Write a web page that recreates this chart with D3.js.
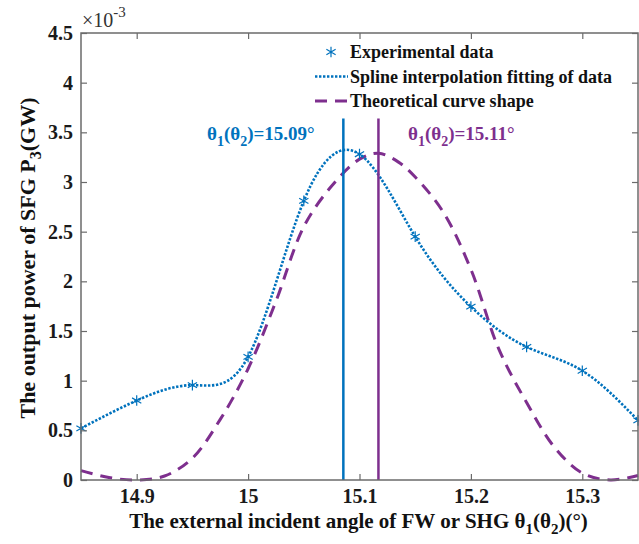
<!DOCTYPE html>
<html>
<head>
<meta charset="utf-8">
<script src="https://cdn.jsdelivr.net/npm/d3@7"></script>
<style>
  body { margin: 0; background: #fff; }
  svg { display: block; }
  text { font-family: "Liberation Serif", "DejaVu Serif", serif; }
</style>
</head>
<body>
<div id="chart"></div>
<script>
// experimental data (x in degrees, y in 1e-3 GW)
const expAngle = [14.85, 14.9, 14.95, 15.0, 15.05, 15.1, 15.15, 15.2, 15.25, 15.3, 15.35]
const expPower = [0.52, 0.80, 0.955, 1.24, 2.81, 3.28, 2.45, 1.745, 1.34, 1.10, 0.60]

// theoretical curve shape
const theoAngle = [14.85, 14.875, 14.9, 14.925, 14.95, 14.975, 15.0, 15.025, 15.05, 15.075, 15.1, 15.117,
  15.135, 15.15, 15.175, 15.2, 15.225, 15.25, 15.275, 15.3, 15.325, 15.35]
const theoPower = [0.094, 0.025, 0.0, 0.04, 0.22, 0.61, 1.12, 1.80, 2.55, 2.96, 3.23, 3.29,
  3.20, 3.05, 2.70, 2.12, 1.32, 0.78, 0.33, 0.07, 0.0, 0.045]

const peakFit = 15.0855, peakTheo = 15.117, markTop = 3.64
const xTicks = [14.9, 15.0, 15.1, 15.2, 15.3]
const yTicks = [0, 0.5, 1, 1.5, 2, 2.5, 3, 3.5, 4, 4.5]

const legendItems = ["Experimental data", "Spline interpolation fitting of data", "Theoretical curve shape"]

const blue = "#0072bd", purple = "#7e2f8e"
const W = 639, H = 544
const margin = { top: 33, right: 1, bottom: 64, left: 81 }

const svg = d3.select("#chart").append("svg")
  .attr("width", W).attr("height", H)

const x = d3.scaleLinear().domain([14.85, 15.35]).range([margin.left, W - margin.right])
const y = d3.scaleLinear().domain([0, 4.5]).range([H - margin.bottom, margin.top])

const plot = svg.append("g")

// theoretical dashed curve
plot.append("path")
  .datum(d3.zip(theoAngle, theoPower))
  .attr("d", d3.line().x(d => x(d[0])).y(d => y(d[1])).curve(d3.curveCatmullRom))
  .attr("fill", "none").attr("stroke", purple).attr("stroke-width", 3)
  .attr("stroke-dasharray", "12,8")

// spline through the data
plot.append("path")
  .datum(d3.zip(expAngle, expPower))
  .attr("d", d3.line().x(d => x(d[0])).y(d => y(d[1])).curve(d3.curveNatural))
  .attr("fill", "none").attr("stroke", blue).attr("stroke-width", 2.6)
  .attr("stroke-dasharray", "2.4,1.6")

// vertical peak markers
plot.append("line")
  .attr("x1", x(peakFit)).attr("x2", x(peakFit)).attr("y1", y(0)).attr("y2", y(markTop))
  .attr("stroke", blue).attr("stroke-width", 2.5)
plot.append("line")
  .attr("x1", x(peakTheo)).attr("x2", x(peakTheo)).attr("y1", y(0)).attr("y2", y(markTop))
  .attr("stroke", purple).attr("stroke-width", 2.5)

// data markers
const star = d3.symbol(d3.symbolAsterisk, 80)
plot.selectAll(".pt")
  .data(d3.zip(expAngle, expPower))
  .enter().append("path")
  .attr("class", "pt")
  .attr("d", star)
  .attr("transform", d => "translate(" + x(d[0]) + "," + y(d[1]) + ")")
  .attr("fill", "none").attr("stroke", blue).attr("stroke-width", 1.2)

// axes box
const axisColor = "#6b6b6b"
svg.append("rect")
  .attr("x", x(14.85)).attr("y", y(4.5))
  .attr("width", x(15.35) - x(14.85)).attr("height", y(0) - y(4.5))
  .attr("fill", "none").attr("stroke", axisColor).attr("stroke-width", 1.5)

const fmt = d => String(+d.toFixed(1))
const gx = svg.append("g").attr("transform", "translate(0," + y(0) + ")")
  .call(d3.axisBottom(x).tickValues(xTicks).tickSizeInner(-6).tickSizeOuter(0).tickPadding(9).tickFormat(fmt))
const gxTop = svg.append("g").attr("transform", "translate(0," + y(4.5) + ")")
  .call(d3.axisTop(x).tickValues(xTicks).tickSizeInner(-6).tickSizeOuter(0).tickFormat(""))
const gy = svg.append("g").attr("transform", "translate(" + x(14.85) + ",0)")
  .call(d3.axisLeft(y).tickValues(yTicks).tickSizeInner(-6).tickSizeOuter(0).tickPadding(8).tickFormat(fmt))
const gyR = svg.append("g").attr("transform", "translate(" + x(15.35) + ",0)")
  .call(d3.axisRight(y).tickValues(yTicks).tickSizeInner(-6).tickSizeOuter(0).tickFormat(""))

;[gx, gxTop, gy, gyR].forEach(g => {
  g.select(".domain").remove()
  g.selectAll(".tick line").attr("stroke", axisColor).attr("stroke-width", 1.2)
  g.selectAll(".tick text")
    .attr("fill", "#1a1a1a").attr("font-size", "20px").attr("font-weight", "bold")
    .style("font-family", '"Liberation Serif", serif')
})

// exponent label
const expo = svg.append("text").attr("x", 82).attr("y", 27)
  .attr("font-size", "20px").attr("fill", "#333")
expo.append("tspan").text("×10")
expo.append("tspan").attr("dy", -10).attr("font-size", "15px").text("-3")

// axis titles
const xl = svg.append("text")
  .attr("x", (x(14.85) + x(15.35)) / 2 - 1).attr("y", 528)
  .attr("text-anchor", "middle").attr("font-size", "21px").attr("font-weight", "bold").attr("fill", "#111")
xl.append("tspan").text("The external incident angle of FW or SHG θ")
xl.append("tspan").attr("dy", 6).attr("font-size", "15px").text("1")
xl.append("tspan").attr("dy", -6).text("(θ")
xl.append("tspan").attr("dy", 6).attr("font-size", "15px").text("2")
xl.append("tspan").attr("dy", -6).text(")(°)")

const yl = svg.append("text")
  .attr("transform", "translate(35," + 258 + ") rotate(-90)")
  .attr("text-anchor", "middle").attr("font-size", "22px").attr("font-weight", "bold").attr("fill", "#111")
yl.append("tspan").text("The output power of SFG P")
yl.append("tspan").attr("dy", 6).attr("font-size", "16px").text("3")
yl.append("tspan").attr("dy", -6).text("(GW)")

// peak annotations
function thetaLabel(px, py, value, color) {
  const t = svg.append("text").attr("x", px).attr("y", py)
    .attr("font-size", "19px").attr("font-weight", "bold").attr("fill", color)
  t.append("tspan").text("θ")
  t.append("tspan").attr("dy", 6).attr("font-size", "14px").text("1")
  t.append("tspan").attr("dy", -6).text("(θ")
  t.append("tspan").attr("dy", 6).attr("font-size", "14px").text("2")
  t.append("tspan").attr("dy", -6).text(")=" + value + "°")
}
thetaLabel(207, 140, "15.09", blue)
thetaLabel(408, 140, "15.11", purple)

// legend
const legend = svg.append("g").attr("transform", "translate(315,52)")
const rowH = 24.5
legend.selectAll("text")
  .data(legendItems)
  .enter().append("text")
  .attr("x", 35).attr("y", (d, i) => i * rowH + 6)
  .attr("font-size", "18px").attr("font-weight", "bold").attr("fill", "#111")
  .text(d => d)
legend.append("path").attr("d", star).attr("transform", "translate(16,0)")
  .attr("fill", "none").attr("stroke", blue).attr("stroke-width", 1.2)
legend.append("line").attr("x1", 0).attr("x2", 33).attr("y1", rowH).attr("y2", rowH)
  .attr("stroke", blue).attr("stroke-width", 2.6).attr("stroke-dasharray", "2.4,1.6")
legend.append("line").attr("x1", 0).attr("x2", 33).attr("y1", rowH * 2).attr("y2", rowH * 2)
  .attr("stroke", purple).attr("stroke-width", 3).attr("stroke-dasharray", "12,8")
</script>
</body>
</html>
